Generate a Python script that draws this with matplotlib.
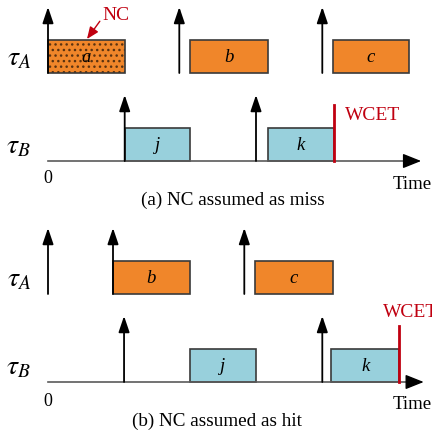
import matplotlib.pyplot as plt
from matplotlib.patches import Rectangle

# time values (one unit ~ 13 px)
# (a) NC assumed as miss
a_rel_A = [0, 10.1, 21.1]
a_start_A = [0, 10.9, 21.9]
a_end_A = [5.9, 16.9, 27.8]
a_name_A = ['a', 'b', 'c']
a_rel_B = [5.9, 16]
a_start_B = [5.9, 16.9]
a_end_B = [10.9, 22]
a_name_B = ['j', 'k']
a_wcet = 22
a_axis_end = 28.7

# (b) NC assumed as hit
b_rel_A = [0, 5, 15.1]
b_start_A = [5, 15.9]
b_end_A = [10.9, 21.9]
b_name_A = ['b', 'c']
b_rel_B = [5.85, 21.1]
b_start_B = [10.9, 21.8]
b_end_B = [16, 27]
b_name_B = ['j', 'k']
b_wcet = 27
b_axis_end = 28.9

captions = ['(a) NC assumed as miss', '(b) NC assumed as hit']

plt.rcParams['mathtext.fontset'] = 'stix'
SERIF = 'Liberation Serif'
ORANGE = '#f0862a'
BLUE = '#98d0dc'
EDGE = '#3a3a3a'
RED = '#c00010'

fig = plt.figure(figsize=(4.32, 4.35), dpi=100)
ax = fig.add_axes([0, 0, 1, 1])
ax.set_xlim(-48 / 13, 384 / 13)
ax.set_ylim(435, 0)
ax.axis('off')

BOX_H = 33
ARROW_L = 66


def release(t, base):
    ax.annotate('', xy=(t, base - ARROW_L), xytext=(t, base),
                arrowprops=dict(arrowstyle='-|>,head_length=0.65,head_width=0.22',
                                lw=1.3, color='black', mutation_scale=15,
                                shrinkA=0, shrinkB=0))


def job(t0, t1, base, color, name, dots=False):
    if dots:
        ax.add_patch(Rectangle((t0, base - BOX_H), t1 - t0, BOX_H, facecolor=color,
                               edgecolor='#5a3210', lw=0, hatch='...'))
        ax.add_patch(Rectangle((t0, base - BOX_H), t1 - t0, BOX_H, facecolor='none',
                               edgecolor=EDGE, lw=1.2))
    else:
        ax.add_patch(Rectangle((t0, base - BOX_H), t1 - t0, BOX_H, facecolor=color,
                               edgecolor=EDGE, lw=1.2))
    ax.text((t0 + t1) / 2, base - BOX_H / 2, name, family=SERIF, style='italic',
            fontsize=13.5, ha='center', va='center')


panels = [
    (a_rel_A, a_start_A, a_end_A, a_name_A, a_rel_B, a_start_B, a_end_B, a_name_B, a_wcet, a_axis_end),
    (b_rel_A, b_start_A, b_end_A, b_name_A, b_rel_B, b_start_B, b_end_B, b_name_B, b_wcet, b_axis_end),
]

for p, (relA, sA, eA, nA, relB, sB, eB, nB, wcet, tend) in enumerate(panels):
    off = 221 * p
    baseA = 74 + off
    baseB = 162 + off

    # time axis of task B
    ax.plot([0, tend - 1.0], [baseB, baseB], color='#5a5a5a', lw=1.2)
    ax.annotate('', xy=(tend, baseB), xytext=(tend - 1.3, baseB),
                arrowprops=dict(arrowstyle='-|>,head_length=0.75,head_width=0.3',
                                lw=1.0, color='black', mutation_scale=15,
                                shrinkA=0, shrinkB=0))

    for i in range(len(sA)):
        job(sA[i], eA[i], baseA, ORANGE, nA[i], dots=(p == 0 and i == 0))
    for i in range(len(sB)):
        job(sB[i], eB[i], baseB, BLUE, nB[i])
    for t in relA:
        release(t, baseA)
    for t in relB:
        release(t, baseB)

    ax.plot([wcet, wcet], [baseB - 56, baseB], color=RED, lw=2)
    if p == 0:
        ax.text(wcet + 0.85, baseB - 47, 'WCET', color=RED, family=SERIF,
                fontsize=14, ha='left', va='center')
    else:
        ax.text(wcet - 1.25, baseB - 70, 'WCET', color=RED, family=SERIF,
                fontsize=14, ha='left', va='center')

    ax.text(-2.25, baseA - 17, r'$\tau_A$', fontsize=20, ha='center', va='center')
    ax.text(-2.25, baseB - 17, r'$\tau_B$', fontsize=20, ha='center', va='center')
    ax.text(0, baseB + 17 + 2 * p, '0', family=SERIF, fontsize=13, ha='center', va='center')
    ax.text(29.5, baseB + 23 - 1 * p, 'Time', family=SERIF, fontsize=13.5,
            ha='right', va='center')
    ax.text(14.2 - 1.2 * p, baseB + 38, captions[p], family=SERIF,
            fontsize=13.8, ha='center', va='center')

# NC marker on job a
ax.annotate('NC', xy=(3.0, 40), xytext=(4.2, 15), color=RED, family=SERIF,
            fontsize=14, ha='left', va='center',
            arrowprops=dict(arrowstyle='-|>,head_length=0.6,head_width=0.25',
                            lw=1.0, color=RED, mutation_scale=12,
                            shrinkA=0, shrinkB=0,
                            relpos=(0, 0.3)))

fig.savefig('out.png', dpi=100)
